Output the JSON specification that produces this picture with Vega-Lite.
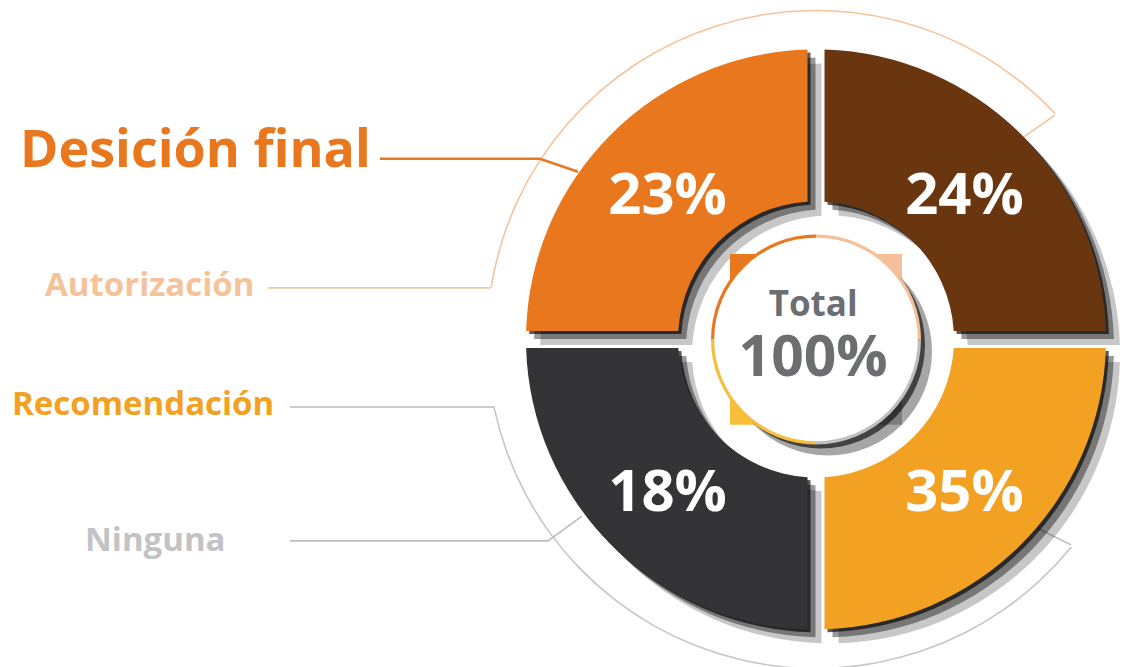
{
  "$schema": "https://vega.github.io/schema/vega-lite/v6.json",
  "autosize": {"type": "fit", "contains": "padding"},
  "width": 1127,
  "height": 667,
  "padding": 0,
  "background": "white",
  "config": {"view": {"stroke": null}},
  "datasets": {
    "segmentos": [
      {"label": "Autorización", "pct": 0.24, "orden": 1},
      {"label": "Recomendación", "pct": 0.35, "orden": 2},
      {"label": "Ninguna", "pct": 0.18, "orden": 3},
      {"label": "Desición final", "pct": 0.23, "orden": 4}
    ],
    "arcos": [
      {"g": "AU", "a0": -81, "a1": 46.6},
      {"g": "RE", "a0": 129.1, "a1": 258}
    ],
    "lineas": [
      {"g": "DF", "i": 1, "x": -1.50345, "y": 0.62759},
      {"g": "DF", "i": 2, "x": -0.95172, "y": 0.62759},
      {"g": "DF", "i": 3, "x": -0.82069, "y": 0.58276},
      {"g": "AU", "i": 1, "x": -1.88966, "y": 0.17931},
      {"g": "AU", "i": 2, "x": -1.12414, "y": 0.17931},
      {"g": "RE", "i": 1, "x": -1.81379, "y": -0.23448},
      {"g": "RE", "i": 2, "x": -1.1069, "y": -0.23448},
      {"g": "NI", "i": 1, "x": -1.81379, "y": -0.7},
      {"g": "NI", "i": 2, "x": -0.92414, "y": -0.7},
      {"g": "NI", "i": 3, "x": -0.8069, "y": -0.61379},
      {"g": "TA", "i": 1, "x": 0.82414, "y": 0.77931},
      {"g": "TA", "i": 2, "x": 0.71724, "y": 0.70345},
      {"g": "TG", "i": 1, "x": 0.87931, "y": -0.71379},
      {"g": "TG", "i": 2, "x": 0.76207, "y": -0.65517}
    ],
    "cuadro": [
      {"label": "Desición final", "x0": -0.29655, "x1": 0, "y0": 0, "y1": 0.29655},
      {"label": "Autorización", "x0": 0, "x1": 0.29655, "y0": 0, "y1": 0.29655},
      {"label": "Ninguna", "x0": -0.29655, "x1": 0, "y0": -0.29655, "y1": 0},
      {"label": "Recomendación", "x0": 0, "x1": 0.29655, "y0": -0.29655, "y1": 0}
    ],
    "etiquetas": [
      {"t": "Desición final", "x": -2.74483, "y": 0.6},
      {"t": "Autorización", "x": -2.65862, "y": 0.15172},
      {"t": "Recomendación", "x": -2.77241, "y": -0.26207},
      {"t": "Ninguna", "x": -2.52069, "y": -0.73448}
    ],
    "centro": [
      {"t": "Total", "x": -0.01, "y": 0.08276},
      {"t": "100%", "x": -0.01, "y": -0.12759}
    ],
    "uno": [{"c": 1}]
  },
  "resolve": {"scale": {"color": "independent", "theta": "independent", "size": "independent"}},
  "layer": [
    {
      "data": {"name": "arcos"},
      "mark": {"type": "arc", "innerRadius": 328.2, "outerRadius": 329.8},
      "encoding": {
        "x": {"datum": 0, "type": "quantitative", "scale": {"domain": [-2.81379, 1.07241], "nice": false, "zero": false}, "axis": null},
        "y": {"datum": 0, "type": "quantitative", "scale": {"domain": [-1.12069, 1.17931], "nice": false, "zero": false}, "axis": null},
        "theta": {"field": "a0", "type": "quantitative", "stack": null, "scale": {"domain": [0, 360], "range": [0, 6.283185], "zero": false, "nice": false}},
        "theta2": {"field": "a1"},
        "color": {"field": "g", "type": "nominal", "scale": {"domain": ["AU", "RE"], "range": ["#F5C39A", "#C6C6C8"]}, "legend": null}
      }
    },
    {
      "data": {"name": "lineas"},
      "transform": [{"filter": "datum.g !== 'DF'"}],
      "mark": {"type": "line", "strokeWidth": 1.6},
      "encoding": {
        "x": {"field": "x", "type": "quantitative", "scale": {"domain": [-2.81379, 1.07241], "nice": false, "zero": false}, "axis": null},
        "y": {"field": "y", "type": "quantitative", "scale": {"domain": [-1.12069, 1.17931], "nice": false, "zero": false}, "axis": null},
        "detail": {"field": "g"},
        "order": {"field": "i"},
        "color": {"field": "g", "type": "nominal", "scale": {"domain": ["AU", "RE", "NI", "TA", "TG"], "range": ["#F5C39A", "#BDBDBF", "#BDBDBF", "#F5C39A", "#BDBDBF"]}, "legend": null}
      }
    },
    {
      "data": {"name": "lineas"},
      "transform": [{"filter": "datum.g === 'DF'"}],
      "mark": {"type": "line", "strokeWidth": 2.6, "color": "#E8771E"},
      "encoding": {
        "x": {"field": "x", "type": "quantitative", "scale": {"domain": [-2.81379, 1.07241], "nice": false, "zero": false}, "axis": null},
        "y": {"field": "y", "type": "quantitative", "scale": {"domain": [-1.12069, 1.17931], "nice": false, "zero": false}, "axis": null},
        "order": {"field": "i"}
      }
    },
    {
      "data": {"name": "segmentos"},
      "mark": {"type": "arc", "innerRadius": 138, "outerRadius": 290, "padAngle": 0.053, "color": "#000000", "opacity": 0.22, "xOffset": 14, "yOffset": 14},
      "encoding": {
        "x": {"datum": 0, "type": "quantitative", "scale": {"domain": [-2.81379, 1.07241], "nice": false, "zero": false}, "axis": null},
        "y": {"datum": 0, "type": "quantitative", "scale": {"domain": [-1.12069, 1.17931], "nice": false, "zero": false}, "axis": null},
        "theta": {"aggregate": "count", "type": "quantitative", "stack": true},
        "order": {"field": "orden"},
        "detail": {"field": "label"}
      }
    },
    {
      "data": {"name": "segmentos"},
      "mark": {"type": "arc", "innerRadius": 138, "outerRadius": 290, "padAngle": 0.053, "color": "#000000", "opacity": 0.4, "xOffset": 8, "yOffset": 8},
      "encoding": {
        "x": {"datum": 0, "type": "quantitative", "scale": {"domain": [-2.81379, 1.07241], "nice": false, "zero": false}, "axis": null},
        "y": {"datum": 0, "type": "quantitative", "scale": {"domain": [-1.12069, 1.17931], "nice": false, "zero": false}, "axis": null},
        "theta": {"aggregate": "count", "type": "quantitative", "stack": true},
        "order": {"field": "orden"},
        "detail": {"field": "label"}
      }
    },
    {
      "data": {"name": "segmentos"},
      "mark": {"type": "arc", "innerRadius": 138, "outerRadius": 290, "padAngle": 0.053, "color": "#000000", "opacity": 0.65, "xOffset": 3, "yOffset": 3},
      "encoding": {
        "x": {"datum": 0, "type": "quantitative", "scale": {"domain": [-2.81379, 1.07241], "nice": false, "zero": false}, "axis": null},
        "y": {"datum": 0, "type": "quantitative", "scale": {"domain": [-1.12069, 1.17931], "nice": false, "zero": false}, "axis": null},
        "theta": {"aggregate": "count", "type": "quantitative", "stack": true},
        "order": {"field": "orden"},
        "detail": {"field": "label"}
      }
    },
    {
      "data": {"name": "segmentos"},
      "mark": {"type": "arc", "innerRadius": 138, "outerRadius": 290, "padAngle": 0.053},
      "encoding": {
        "x": {"datum": 0, "type": "quantitative", "scale": {"domain": [-2.81379, 1.07241], "nice": false, "zero": false}, "axis": null},
        "y": {"datum": 0, "type": "quantitative", "scale": {"domain": [-1.12069, 1.17931], "nice": false, "zero": false}, "axis": null},
        "theta": {"aggregate": "count", "type": "quantitative", "stack": true},
        "order": {"field": "orden"},
        "color": {"field": "label", "type": "nominal", "scale": {"domain": ["Autorización", "Recomendación", "Ninguna", "Desición final"], "range": ["#6A3610", "#F2A122", "#343436", "#E8771E"]}, "legend": null}
      }
    },
    {
      "data": {"name": "cuadro"},
      "mark": {"type": "rect"},
      "encoding": {
        "x": {"field": "x0", "type": "quantitative", "scale": {"domain": [-2.81379, 1.07241], "nice": false, "zero": false}, "axis": null},
        "x2": {"field": "x1"},
        "y": {"field": "y0", "type": "quantitative", "scale": {"domain": [-1.12069, 1.17931], "nice": false, "zero": false}, "axis": null},
        "y2": {"field": "y1"},
        "color": {"field": "label", "type": "nominal", "scale": {"domain": ["Autorización", "Recomendación", "Ninguna", "Desición final"], "range": ["#F5C097", "#BFBFC1", "#F7BD3B", "#E8771E"]}, "legend": null}
      }
    },
    {
      "data": {"name": "uno"},
      "mark": {"type": "arc", "outerRadius": 104, "innerRadius": 0, "theta": 0, "theta2": 6.2832, "color": "#000000", "opacity": 0.35, "xOffset": 12, "yOffset": 12},
      "encoding": {
        "x": {"datum": 0, "type": "quantitative", "scale": {"domain": [-2.81379, 1.07241], "nice": false, "zero": false}, "axis": null},
        "y": {"datum": 0, "type": "quantitative", "scale": {"domain": [-1.12069, 1.17931], "nice": false, "zero": false}, "axis": null}
      }
    },
    {
      "data": {"name": "uno"},
      "mark": {"type": "arc", "outerRadius": 104, "innerRadius": 0, "theta": 0, "theta2": 6.2832, "color": "#000000", "opacity": 0.6, "xOffset": 5, "yOffset": 5},
      "encoding": {
        "x": {"datum": 0, "type": "quantitative", "scale": {"domain": [-2.81379, 1.07241], "nice": false, "zero": false}, "axis": null},
        "y": {"datum": 0, "type": "quantitative", "scale": {"domain": [-1.12069, 1.17931], "nice": false, "zero": false}, "axis": null}
      }
    },
    {
      "data": {"name": "segmentos"},
      "mark": {"type": "arc", "innerRadius": 0, "outerRadius": 105},
      "encoding": {
        "x": {"datum": 0, "type": "quantitative", "scale": {"domain": [-2.81379, 1.07241], "nice": false, "zero": false}, "axis": null},
        "y": {"datum": 0, "type": "quantitative", "scale": {"domain": [-1.12069, 1.17931], "nice": false, "zero": false}, "axis": null},
        "theta": {"aggregate": "count", "type": "quantitative", "stack": true},
        "order": {"field": "orden"},
        "color": {"field": "label", "type": "nominal", "scale": {"domain": ["Autorización", "Recomendación", "Ninguna", "Desición final"], "range": ["#F5C097", "#BFBFC1", "#F7BD3B", "#E8771E"]}, "legend": null}
      }
    },
    {
      "data": {"name": "uno"},
      "mark": {"type": "arc", "outerRadius": 101.8, "innerRadius": 0, "theta": 0, "theta2": 6.2832, "color": "#FFFFFF"},
      "encoding": {
        "x": {"datum": 0, "type": "quantitative", "scale": {"domain": [-2.81379, 1.07241], "nice": false, "zero": false}, "axis": null},
        "y": {"datum": 0, "type": "quantitative", "scale": {"domain": [-1.12069, 1.17931], "nice": false, "zero": false}, "axis": null}
      }
    },
    {
      "data": {"name": "segmentos"},
      "mark": {"type": "text", "radius": 210, "dy": 6, "font": "Open Sans", "fontWeight": "bold", "fontSize": 58, "color": "#FFFFFF", "baseline": "middle", "align": "center"},
      "encoding": {
        "x": {"datum": 0, "type": "quantitative", "scale": {"domain": [-2.81379, 1.07241], "nice": false, "zero": false}, "axis": null},
        "y": {"datum": 0, "type": "quantitative", "scale": {"domain": [-1.12069, 1.17931], "nice": false, "zero": false}, "axis": null},
        "theta": {"aggregate": "count", "type": "quantitative", "stack": true},
        "order": {"field": "orden"},
        "detail": {"field": "label"},
        "text": {"field": "pct", "type": "quantitative", "format": ".0%"}
      }
    },
    {
      "data": {"name": "etiquetas"},
      "transform": [{"filter": "datum.t === 'Desición final'"}],
      "mark": {"type": "text", "font": "Open Sans", "fontWeight": "bold", "align": "left", "baseline": "alphabetic", "fontSize": 52, "color": "#E8771E"},
      "encoding": {
        "x": {"field": "x", "type": "quantitative", "scale": {"domain": [-2.81379, 1.07241], "nice": false, "zero": false}, "axis": null},
        "y": {"field": "y", "type": "quantitative", "scale": {"domain": [-1.12069, 1.17931], "nice": false, "zero": false}, "axis": null},
        "text": {"field": "t"}
      }
    },
    {
      "data": {"name": "etiquetas"},
      "transform": [{"filter": "datum.t !== 'Desición final'"}],
      "mark": {"type": "text", "font": "Open Sans", "fontWeight": "bold", "align": "left", "baseline": "alphabetic", "fontSize": 33},
      "encoding": {
        "x": {"field": "x", "type": "quantitative", "scale": {"domain": [-2.81379, 1.07241], "nice": false, "zero": false}, "axis": null},
        "y": {"field": "y", "type": "quantitative", "scale": {"domain": [-1.12069, 1.17931], "nice": false, "zero": false}, "axis": null},
        "text": {"field": "t"},
        "color": {"field": "t", "type": "nominal", "scale": {"domain": ["Autorización", "Recomendación", "Ninguna"], "range": ["#F5C39A", "#F2A122", "#C3C3C5"]}, "legend": null}
      }
    },
    {
      "data": {"name": "centro"},
      "transform": [{"filter": "datum.t === 'Total'"}],
      "mark": {"type": "text", "font": "Open Sans", "fontWeight": "bold", "align": "center", "baseline": "alphabetic", "color": "#6D6E71", "fontSize": 35},
      "encoding": {
        "x": {"field": "x", "type": "quantitative", "scale": {"domain": [-2.81379, 1.07241], "nice": false, "zero": false}, "axis": null},
        "y": {"field": "y", "type": "quantitative", "scale": {"domain": [-1.12069, 1.17931], "nice": false, "zero": false}, "axis": null},
        "text": {"field": "t"}
      }
    },
    {
      "data": {"name": "centro"},
      "transform": [{"filter": "datum.t === '100%'"}],
      "mark": {"type": "text", "font": "Open Sans", "fontWeight": "bold", "align": "center", "baseline": "alphabetic", "color": "#6D6E71", "fontSize": 57},
      "encoding": {
        "x": {"field": "x", "type": "quantitative", "scale": {"domain": [-2.81379, 1.07241], "nice": false, "zero": false}, "axis": null},
        "y": {"field": "y", "type": "quantitative", "scale": {"domain": [-1.12069, 1.17931], "nice": false, "zero": false}, "axis": null},
        "text": {"field": "t"}
      }
    }
  ]
}
